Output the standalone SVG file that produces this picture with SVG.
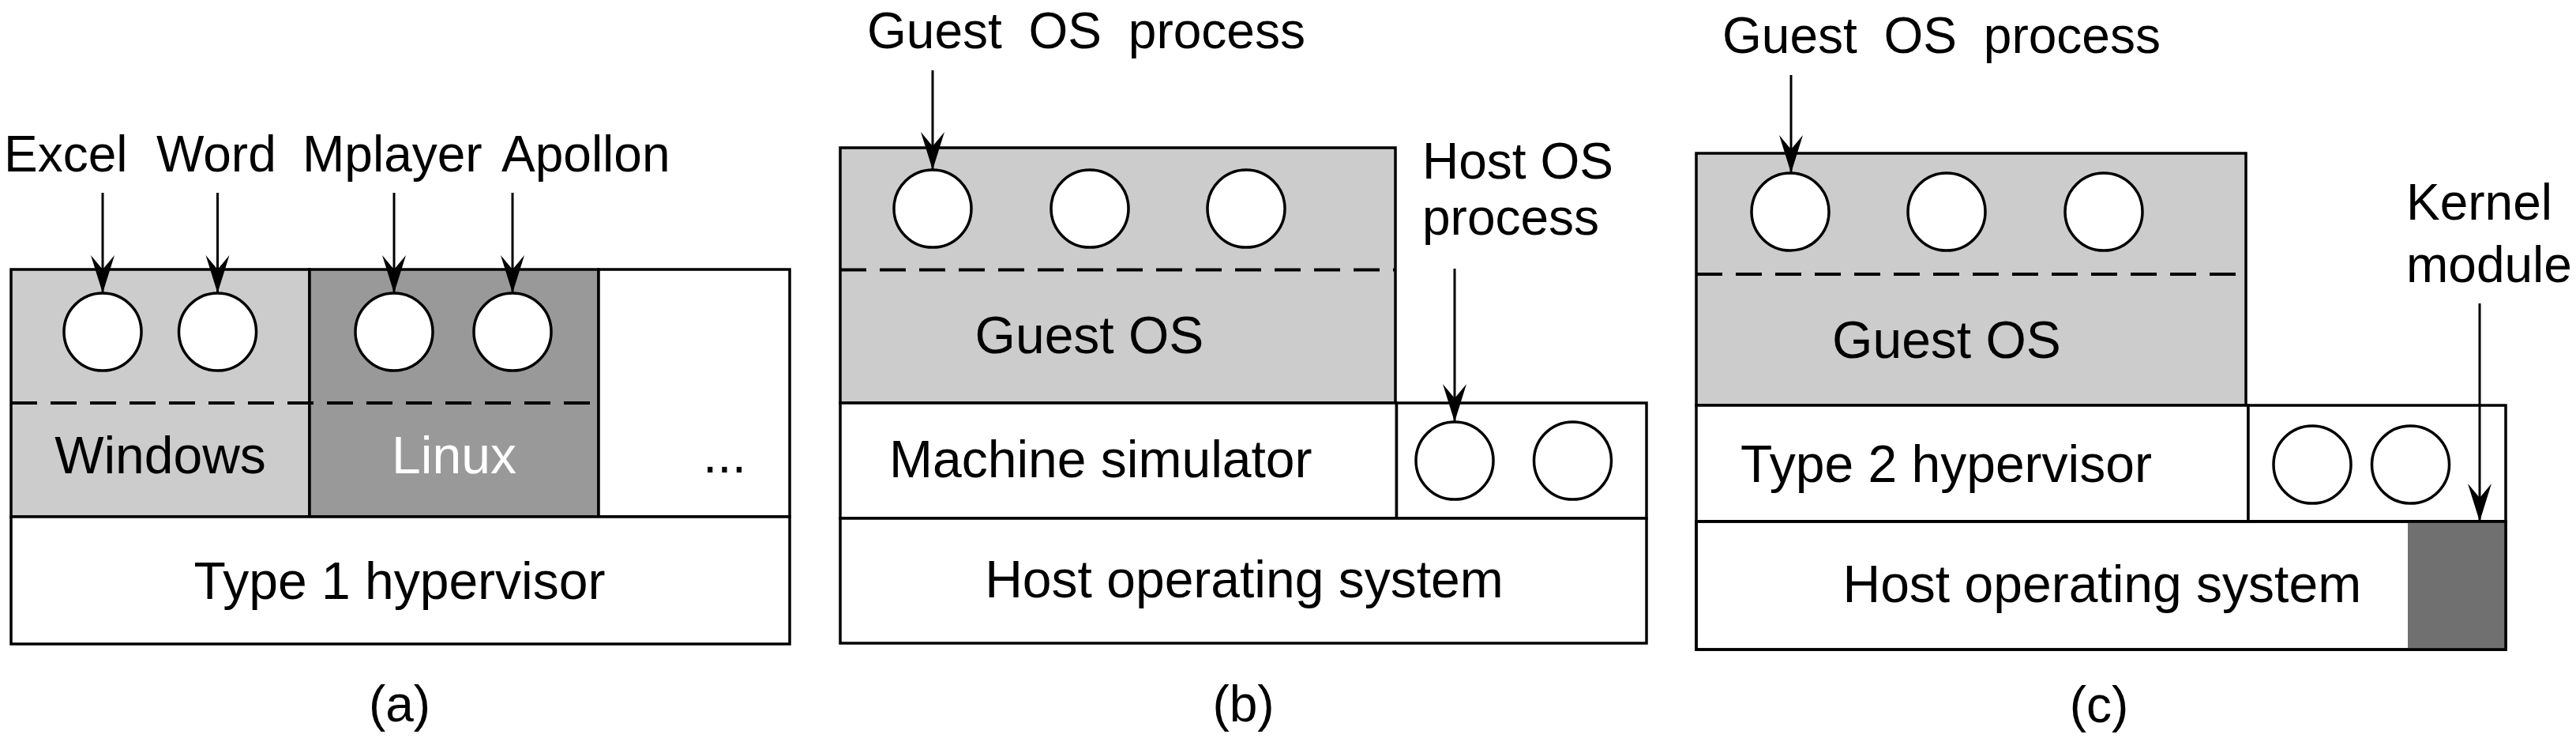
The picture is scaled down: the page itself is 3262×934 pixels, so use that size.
<svg xmlns="http://www.w3.org/2000/svg" width="3262" height="934" viewBox="0 0 3262 934">
<style>
.t{font-family:"Liberation Sans",Arial,Helvetica,sans-serif;font-size:64px;fill:#000}
.b{font-size:66px}
.box{stroke:#000;stroke-width:3.5}
.lg{fill:#cccccc}
.mg{fill:#999999}
.dg{fill:#707070}
.w{fill:#fff}
.dash{stroke:#000;stroke-width:4;stroke-dasharray:33 17;fill:none}
.p{fill:#fff;stroke:#000;stroke-width:3.5}
.arr{stroke:#000;stroke-width:3;fill:none;marker-end:url(#ah)}
</style>
<defs>
<marker id="ah" markerUnits="userSpaceOnUse" viewBox="-49 -16 50 32" markerWidth="50" markerHeight="32" refX="0" refY="0" orient="auto">
<path d="M0,0 L-48,-15 L-30,0 L-48,15 Z" fill="#000"/>
</marker>
</defs>
<rect width="3262" height="934" fill="#fff"/>

<!-- (a) -->
<g id="a-windows">
<rect class="box lg" x="14" y="341" width="378" height="313"/>
<text class="t b" x="203" y="599" text-anchor="middle">Windows</text>
</g>
<g id="a-linux">
<rect class="box mg" x="392" y="341" width="366" height="313"/>
<text class="t b" x="575" y="599" text-anchor="middle" style="fill:#fff">Linux</text>
</g>
<g id="a-other">
<rect class="box w" x="758" y="341" width="242" height="313"/>
<text class="t b" x="890" y="598">...</text>
</g>
<line class="dash" x1="14" y1="510" x2="752" y2="510"/>
<g id="a-hypervisor">
<rect class="box w" x="14" y="654" width="986" height="161"/>
<text class="t b" x="506" y="758" text-anchor="middle">Type 1 hypervisor</text>
</g>
<g id="a-procs">
<circle class="p" cx="130" cy="420" r="49"/>
<circle class="p" cx="275.5" cy="420" r="49"/>
<circle class="p" cx="499" cy="420" r="49"/>
<circle class="p" cx="649" cy="420" r="49"/>
</g>
<g id="a-labels">
<text class="t" x="5" y="217">Excel</text>
<text class="t" x="198" y="217">Word</text>
<text class="t" x="383" y="217">Mplayer</text>
<text class="t" x="635" y="217">Apollon</text>
<text class="t" x="506" y="913" text-anchor="middle">(a)</text>
</g>

<!-- (b) -->
<g id="b-guest">
<rect class="box lg" x="1064" y="187" width="703" height="323"/>
<line class="dash" x1="1064" y1="341.5" x2="1767" y2="341.5"/>
<text class="t b" x="1379.5" y="447" text-anchor="middle">Guest OS</text>
<circle class="p" cx="1181" cy="264" r="49"/>
<circle class="p" cx="1380" cy="264" r="49"/>
<circle class="p" cx="1578" cy="264" r="49"/>
</g>
<g id="b-simulator">
<rect class="box w" x="1064" y="510" width="704.5" height="146"/>
<text class="t b" x="1126" y="604">Machine simulator</text>
</g>
<g id="b-hostprocs">
<rect class="box w" x="1768.5" y="510" width="316.5" height="146"/>
<circle class="p" cx="1842" cy="583" r="49"/>
<circle class="p" cx="1991.5" cy="583" r="49"/>
</g>
<g id="b-hostos">
<rect class="box w" x="1064" y="656" width="1021" height="158"/>
<text class="t b" x="1575.5" y="756" text-anchor="middle">Host operating system</text>
</g>
<g id="b-labels">
<text class="t" x="1098" y="61" style="word-spacing:16px">Guest OS process</text>
<text class="t" x="1801" y="226">Host OS</text>
<text class="t" x="1801" y="297">process</text>
<text class="t" x="1574.5" y="913" text-anchor="middle">(b)</text>
</g>

<!-- (c) -->
<g id="c-guest">
<rect class="box lg" x="2148" y="194" width="696" height="319"/>
<line class="dash" x1="2148" y1="347" x2="2838" y2="347"/>
<text class="t b" x="2465" y="453" text-anchor="middle">Guest OS</text>
<circle class="p" cx="2267" cy="268" r="49"/>
<circle class="p" cx="2465" cy="268" r="49"/>
<circle class="p" cx="2664" cy="268" r="49"/>
</g>
<g id="c-hypervisor">
<rect class="box w" x="2148" y="513" width="699" height="147"/>
<text class="t b" x="2204" y="610">Type 2 hypervisor</text>
</g>
<g id="c-hostprocs">
<rect class="box w" x="2847" y="513" width="326" height="147"/>
<circle class="p" cx="2928" cy="588" r="49"/>
<circle class="p" cx="3052.5" cy="588" r="49"/>
</g>
<g id="c-hostos">
<rect class="box w" x="2148" y="660" width="1025" height="162"/>
<text class="t b" x="2333.5" y="762">Host operating system</text>
</g>
<g id="c-kernelmodule">
<rect class="dg" x="3049" y="660" width="124" height="162"/>
<rect x="2148" y="660" width="1025" height="162" fill="none" stroke="#000" stroke-width="3.5"/>
</g>
<g id="c-labels">
<text class="t" x="2181" y="67" style="word-spacing:16px">Guest OS process</text>
<text class="t" x="3047" y="278">Kernel</text>
<text class="t" x="3047" y="357">module</text>
<text class="t" x="2658" y="914" text-anchor="middle">(c)</text>
</g>

<g id="connectors">
<line class="arr" x1="130" y1="244" x2="130" y2="371"/>
<line class="arr" x1="275.5" y1="244" x2="275.5" y2="371"/>
<line class="arr" x1="499" y1="244" x2="499" y2="371"/>
<line class="arr" x1="649" y1="244" x2="649" y2="371"/>
<line class="arr" x1="1181" y1="89" x2="1181" y2="215"/>
<line class="arr" x1="1842" y1="340" x2="1842" y2="534"/>
<line class="arr" x1="2268" y1="95" x2="2268" y2="219"/>
<line class="arr" x1="3140" y1="384" x2="3140" y2="660"/>
</g>
</svg>
